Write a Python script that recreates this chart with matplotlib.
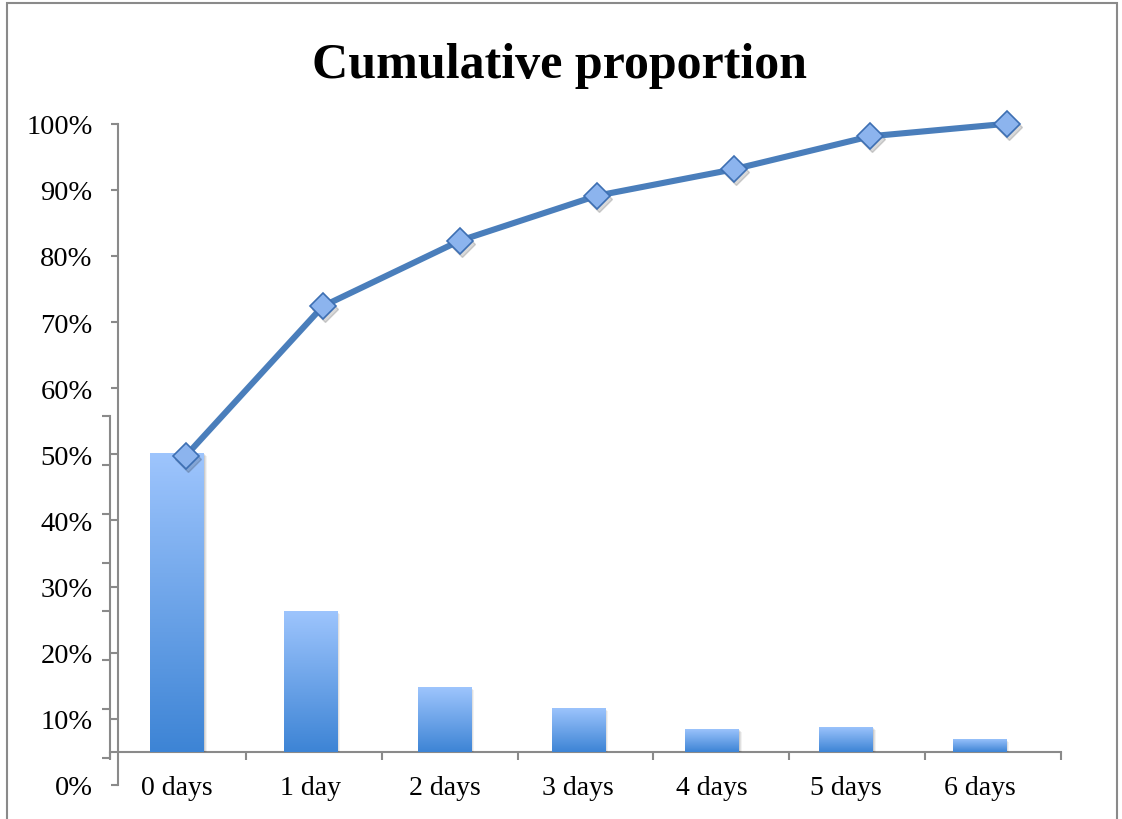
import numpy as np
import matplotlib
matplotlib.use("Agg")
import matplotlib.pyplot as plt
from matplotlib.colors import LinearSegmentedColormap
from matplotlib.patches import Rectangle
from matplotlib.transforms import offset_copy

plt.rcParams['font.family'] = ['Liberation Serif', 'DejaVu Serif']

# data
categories = ['0 days', '1 day', '2 days', '3 days', '4 days', '5 days', '6 days']
daily_pct = [45.2, 21.4, 9.8, 6.7, 3.5, 3.8, 2.0]        # bars (per cent)
cumulative = [0.498, 0.724, 0.823, 0.891, 0.931, 0.981, 1.0]  # line
pct_ticks = np.arange(0, 1.01, 0.1)

W, H = 1122, 820
GRAY = '#8a8a8a'
LINE_BLUE = '#4a7ebb'


def box(x0, y_top, x1, y_bot):
    # pixel box -> figure fraction
    return [x0 / W, 1 - y_bot / H, (x1 - x0) / W, (y_bot - y_top) / H]


fig = plt.figure(figsize=(W / 100, H / 100), dpi=100)
fig.patch.set_facecolor('white')

# outer frame
fig.add_artist(Rectangle((7 / W, -0.05), (1117 - 7) / W, 1.05 - 4 / H,
                         transform=fig.transFigure, fill=False,
                         edgecolor=GRAY, lw=1.5))

fig.text(559 / W, 1 - 78 / H, 'Cumulative proportion', ha='center',
         va='baseline', fontsize=36, fontweight='bold')

# primary axis frame (unlabelled)
ax_frame = fig.add_axes(box(110, 417, 1061, 759))
ax_frame.set_xlim(0, 7)
ax_frame.set_ylim(0, 7)
ax_frame.set_xticks(range(8))
ax_frame.set_yticks(range(8))
ax_frame.tick_params(labelbottom=False, labelleft=False, color=GRAY,
                     width=1.5, length=6, direction='out')
for s in ['top', 'right']:
    ax_frame.spines[s].set_visible(False)
for s in ['left', 'bottom']:
    ax_frame.spines[s].set_color(GRAY)
    ax_frame.spines[s].set_linewidth(1.5)
ax_frame.spines['bottom'].set_position(('axes', (759 - 753.3) / 342))
ax_frame.patch.set_alpha(0)

# bars
ax_bar = fig.add_axes(box(110, 124.5, 110 + 7 * 133.8, 753.3))
ax_bar.patch.set_alpha(0)
ymax = (753.3 - 124.5) / 6.615
x = np.arange(len(categories))
bw = 0.4
cmap = LinearSegmentedColormap.from_list('bar', ['#3d84d5', '#9ec5fd'])
grad = np.linspace(0, 1, 256).reshape(-1, 1)
for xi, h in zip(x, daily_pct):
    # soft shadow
    for k, a in [(3, 0.05), (2, 0.07), (1, 0.09)]:
        ax_bar.add_patch(Rectangle((xi - bw / 2 + k / 133.8, -k / 6.615), bw, h,
                                   facecolor='black', alpha=a, lw=0, zorder=1))
    bar = ax_bar.bar(xi, h, width=bw, color='none', zorder=2)[0]
    im = ax_bar.imshow(grad, extent=(xi - bw / 2, xi + bw / 2, 0, h),
                       origin='lower', cmap=cmap, aspect='auto', zorder=2)
    im.set_clip_path(bar)
ax_bar.set_xlim(-0.5, 6.5)
ax_bar.set_ylim(0, ymax)
ax_bar.set_xticks(x)
ax_bar.set_xticklabels(categories, fontsize=20)
ax_bar.tick_params(axis='x', length=0, pad=16.5)
ax_bar.set_yticks([])
for s in ax_bar.spines.values():
    s.set_visible(False)

# cumulative line on the secondary axis
ax_line = fig.add_axes(box(117.5, 124.7, 117.5 + 7 * 136.9, 786))
ax_line.patch.set_alpha(0)
shadow = offset_copy(ax_line.transData, fig=fig, x=2, y=-3, units='dots')
ax_line.plot(x, cumulative, linestyle='none', marker='D', ms=13,
             color='black', alpha=0.15, transform=shadow, clip_on=False)
ax_line.plot(x, cumulative, color=LINE_BLUE, lw=4.4, marker='D', ms=13,
             markerfacecolor='#8cb4ee', markeredgecolor='#3d6fb3',
             markeredgewidth=1.2, clip_on=False, zorder=3)
ax_line.set_xlim(-0.5, 6.5)
ax_line.set_ylim(0, 1)
ax_line.set_xticks([])
ax_line.set_yticks(pct_ticks)
ax_line.set_yticklabels([f'{int(round(t * 100))}%' for t in pct_ticks],
                        fontsize=20.5)
ax_line.tick_params(axis='y', color=GRAY, width=1.5, length=5, pad=13)
for s in ['top', 'right', 'bottom']:
    ax_line.spines[s].set_visible(False)
ax_line.spines['left'].set_color(GRAY)
ax_line.spines['left'].set_linewidth(1.5)

fig.savefig('out.png', dpi=100, facecolor='white')
